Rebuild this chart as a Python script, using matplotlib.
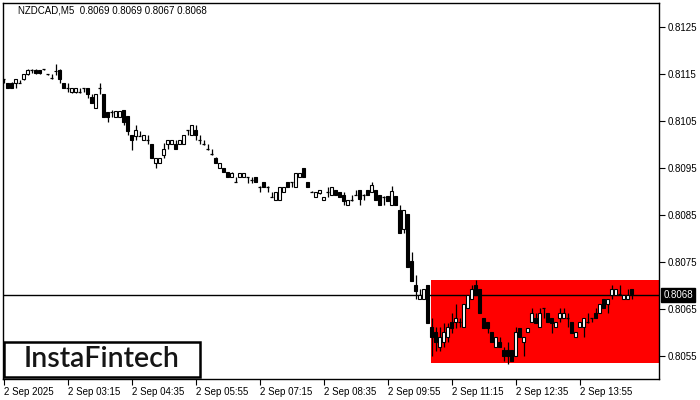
import matplotlib
matplotlib.use("Agg")
import matplotlib.pyplot as plt
from matplotlib.patches import Rectangle
from matplotlib.transforms import blended_transform_factory
import numpy as np

symbol_title = "NZDCAD,M5  0.8069 0.8069 0.8067 0.8068"

opens = [0.81139, 0.81131, 0.81132, 0.81131, 0.81132, 0.81139, 0.81150, 0.81160, 0.81160, 0.81159,
         0.81161, 0.81150, 0.81141, 0.81156, 0.81160, 0.81131, 0.81120, 0.81112, 0.81112, 0.81112,
         0.81120, 0.81120, 0.81101, 0.81079, 0.81120, 0.81109, 0.81070, 0.81070, 0.81060, 0.81060,
         0.81074, 0.81061, 0.81021, 0.81019, 0.81019, 0.81011, 0.81011, 0.81001, 0.80960, 0.80960,
         0.80978, 0.81001, 0.81001, 0.81001, 0.81001, 0.81001, 0.81031, 0.81021, 0.81031, 0.81011,
         0.81001, 0.80990, 0.80980, 0.80971, 0.80950, 0.80950, 0.80942, 0.80931, 0.80920, 0.80931,
         0.80931, 0.80931, 0.80925, 0.80931, 0.80911, 0.80920, 0.80911, 0.80889, 0.80882, 0.80882,
         0.80900, 0.80920, 0.80920, 0.80911, 0.80931, 0.80950, 0.80920, 0.80900, 0.80889, 0.80897,
         0.80882, 0.80900, 0.80893, 0.80904, 0.80900, 0.80893, 0.80872, 0.80882, 0.80893, 0.80904,
         0.80893, 0.80904, 0.80900, 0.80904, 0.80893, 0.80889, 0.80891, 0.80872, 0.80891, 0.80861,
         0.80820, 0.80852, 0.80752, 0.80701, 0.80671, 0.80671, 0.80701, 0.80612, 0.80602, 0.80570,
         0.80580, 0.80591, 0.80622, 0.80622, 0.80622, 0.80611, 0.80652, 0.80671, 0.80701, 0.80692,
         0.80630, 0.80622, 0.80601, 0.80570, 0.80580, 0.80563, 0.80563, 0.80563, 0.80551, 0.80610,
         0.80580, 0.80601, 0.80622, 0.80630, 0.80611, 0.80652, 0.80641, 0.80630, 0.80611, 0.80630,
         0.80630, 0.80630, 0.80622, 0.80591, 0.80611, 0.80611, 0.80622, 0.80630, 0.80641, 0.80641,
         0.80671, 0.80661, 0.80681, 0.80681, 0.80682, 0.80671, 0.80671, 0.80692]

highs = [0.81140, 0.81132, 0.81134, 0.81140, 0.81138, 0.81151, 0.81161, 0.81161, 0.81161, 0.81160,
         0.81162, 0.81151, 0.81150, 0.81172, 0.81161, 0.81131, 0.81131, 0.81121, 0.81121, 0.81120,
         0.81121, 0.81120, 0.81109, 0.81109, 0.81131, 0.81109, 0.81070, 0.81074, 0.81071, 0.81071,
         0.81074, 0.81061, 0.81021, 0.81042, 0.81030, 0.81021, 0.81021, 0.81001, 0.80971, 0.80971,
         0.81003, 0.81011, 0.81011, 0.81011, 0.81011, 0.81021, 0.81032, 0.81042, 0.81042, 0.81021,
         0.81011, 0.81001, 0.80990, 0.80973, 0.80960, 0.80950, 0.80942, 0.80941, 0.80931, 0.80940,
         0.80940, 0.80932, 0.80931, 0.80931, 0.80912, 0.80920, 0.80912, 0.80900, 0.80900, 0.80911,
         0.80911, 0.80920, 0.80921, 0.80940, 0.80940, 0.80950, 0.80920, 0.80901, 0.80900, 0.80904,
         0.80889, 0.80911, 0.80911, 0.80904, 0.80900, 0.80900, 0.80882, 0.80893, 0.80904, 0.80904,
         0.80894, 0.80904, 0.80920, 0.80904, 0.80893, 0.80890, 0.80891, 0.80912, 0.80891, 0.80872,
         0.80861, 0.80852, 0.80772, 0.80723, 0.80692, 0.80692, 0.80701, 0.80630, 0.80612, 0.80612,
         0.80620, 0.80621, 0.80641, 0.80661, 0.80630, 0.80661, 0.80681, 0.80701, 0.80712, 0.80692,
         0.80630, 0.80622, 0.80601, 0.80591, 0.80591, 0.80570, 0.80580, 0.80563, 0.80612, 0.80610,
         0.80591, 0.80610, 0.80652, 0.80641, 0.80652, 0.80653, 0.80641, 0.80630, 0.80622, 0.80652,
         0.80652, 0.80641, 0.80622, 0.80601, 0.80622, 0.80630, 0.80641, 0.80631, 0.80652, 0.80661,
         0.80671, 0.80671, 0.80701, 0.80692, 0.80701, 0.80681, 0.80692, 0.80693]

lows = [0.81131, 0.81120, 0.81120, 0.81120, 0.81131, 0.81138, 0.81149, 0.81152, 0.81151, 0.81151,
        0.81160, 0.81149, 0.81140, 0.81148, 0.81131, 0.81120, 0.81112, 0.81111, 0.81111, 0.81111,
        0.81112, 0.81100, 0.81088, 0.81079, 0.81109, 0.81060, 0.81049, 0.81060, 0.81060, 0.81060,
        0.81041, 0.81021, 0.80989, 0.81011, 0.81018, 0.81011, 0.81001, 0.80971, 0.80950, 0.80960,
        0.80972, 0.80990, 0.81001, 0.80990, 0.81001, 0.81001, 0.81021, 0.81021, 0.81011, 0.81001,
        0.81000, 0.80989, 0.80979, 0.80960, 0.80950, 0.80941, 0.80931, 0.80931, 0.80920, 0.80931,
        0.80931, 0.80918, 0.80918, 0.80920, 0.80900, 0.80911, 0.80900, 0.80889, 0.80882, 0.80882,
        0.80900, 0.80911, 0.80911, 0.80911, 0.80931, 0.80931, 0.80911, 0.80899, 0.80889, 0.80896,
        0.80882, 0.80889, 0.80893, 0.80893, 0.80889, 0.80872, 0.80872, 0.80881, 0.80892, 0.80872,
        0.80882, 0.80893, 0.80900, 0.80882, 0.80872, 0.80872, 0.80881, 0.80872, 0.80872, 0.80811,
        0.80811, 0.80740, 0.80710, 0.80671, 0.80671, 0.80671, 0.80621, 0.80550, 0.80560, 0.80560,
        0.80570, 0.80580, 0.80600, 0.80610, 0.80611, 0.80611, 0.80652, 0.80671, 0.80681, 0.80641,
        0.80610, 0.80600, 0.80580, 0.80570, 0.80570, 0.80540, 0.80532, 0.80540, 0.80551, 0.80591,
        0.80550, 0.80601, 0.80622, 0.80620, 0.80611, 0.80630, 0.80622, 0.80600, 0.80611, 0.80622,
        0.80630, 0.80611, 0.80600, 0.80591, 0.80611, 0.80591, 0.80621, 0.80622, 0.80630, 0.80641,
        0.80652, 0.80641, 0.80671, 0.80681, 0.80681, 0.80671, 0.80671, 0.80672]

closes = [0.81139, 0.81120, 0.81121, 0.81139, 0.81132, 0.81150, 0.81160, 0.81159, 0.81152, 0.81152,
          0.81161, 0.81150, 0.81141, 0.81158, 0.81140, 0.81120, 0.81121, 0.81120, 0.81120, 0.81112,
          0.81120, 0.81109, 0.81088, 0.81109, 0.81120, 0.81060, 0.81060, 0.81070, 0.81071, 0.81071,
          0.81049, 0.81030, 0.81011, 0.81031, 0.81019, 0.81021, 0.81011, 0.80971, 0.80971, 0.80971,
          0.80990, 0.81011, 0.81011, 0.80990, 0.81011, 0.81021, 0.81031, 0.81042, 0.81021, 0.81011,
          0.81001, 0.80990, 0.80980, 0.80960, 0.80960, 0.80941, 0.80931, 0.80940, 0.80920, 0.80940,
          0.80940, 0.80931, 0.80925, 0.80920, 0.80911, 0.80911, 0.80911, 0.80889, 0.80900, 0.80911,
          0.80911, 0.80911, 0.80920, 0.80940, 0.80940, 0.80931, 0.80911, 0.80900, 0.80900, 0.80904,
          0.80889, 0.80900, 0.80911, 0.80893, 0.80889, 0.80880, 0.80882, 0.80882, 0.80893, 0.80885,
          0.80893, 0.80893, 0.80914, 0.80882, 0.80872, 0.80889, 0.80881, 0.80902, 0.80872, 0.80811,
          0.80861, 0.80740, 0.80710, 0.80688, 0.80681, 0.80692, 0.80621, 0.80591, 0.80580, 0.80591,
          0.80602, 0.80612, 0.80610, 0.80630, 0.80622, 0.80661, 0.80681, 0.80692, 0.80681, 0.80641,
          0.80610, 0.80610, 0.80580, 0.80591, 0.80570, 0.80551, 0.80551, 0.80540, 0.80601, 0.80591,
          0.80591, 0.80610, 0.80641, 0.80620, 0.80641, 0.80652, 0.80622, 0.80620, 0.80622, 0.80641,
          0.80641, 0.80630, 0.80600, 0.80601, 0.80622, 0.80630, 0.80622, 0.80630, 0.80630, 0.80661,
          0.80652, 0.80671, 0.80692, 0.80692, 0.80682, 0.80681, 0.80681, 0.80682]

time_tick_bars = [0, 16, 32, 48, 64, 80, 96, 112, 128, 144]
time_tick_labels = ["2 Sep 2025", "2 Sep 03:15", "2 Sep 04:35", "2 Sep 05:55", "2 Sep 07:15",
                    "2 Sep 08:35", "2 Sep 09:55", "2 Sep 11:15", "2 Sep 12:35", "2 Sep 13:55"]
price_ticks = [0.8055, 0.8065, 0.8075, 0.8085, 0.8095, 0.8105, 0.8115, 0.8125]
price_tick_labels = ["0.8055", "0.8065", "0.8075", "0.8085", "0.8095", "0.8105", "0.8115", "0.8125"]
current_price = 0.8068
current_label = "0.8068"
pattern_start_bar = 106.9
pattern_top = 0.80712
pattern_bottom = 0.80535
logo_text = "InstaFintech"

plt.rcParams['font.family'] = ['Liberation Sans', 'DejaVu Sans']

fig = plt.figure(figsize=(7, 4), dpi=100)
fig.patch.set_facecolor('white')
ax = fig.add_axes([2.7 / 700, 21 / 400, 656.6 / 700, 376.3 / 400])
ax.set_facecolor('white')

o = np.array(opens); h = np.array(highs); l = np.array(lows); c = np.array(closes)
x = np.arange(len(o))
xmax = 163.95
ax.set_xlim(-0.2, xmax)
ax.set_ylim(0.805011, 0.813024)

ax.add_patch(Rectangle((pattern_start_bar, pattern_bottom), xmax - pattern_start_bar + 1,
                       pattern_top - pattern_bottom, facecolor='#ff0000', edgecolor='none', zorder=1))
ax.axhline(current_price, color='black', lw=1.0, zorder=2)

up = (c - o) > 0.000012
dn = (o - c) > 0.000012
dj = ~(up | dn)
ax.vlines(x, l, h, color='black', lw=0.9, zorder=3)
bw = 0.62
ax.bar(x[up], (c - o)[up], bottom=o[up], width=bw, facecolor='white', edgecolor='black',
       linewidth=0.8, zorder=4)
ax.bar(x[dn], (o - c)[dn], bottom=c[dn], width=bw, facecolor='black', edgecolor='black',
       linewidth=0.8, zorder=4)
ax.hlines(o[dj], x[dj] - 0.4, x[dj] + 0.4, color='black', lw=0.9, zorder=4)

for s in ax.spines.values():
    s.set_color('black')
    s.set_linewidth(1.0)

ax.set_xticks(time_tick_bars)
ax.set_xticklabels(time_tick_labels, ha='left')
ax.tick_params(axis='x', direction='out', length=4, width=0.8, pad=1.5, labelsize=7, colors='black')
ax.yaxis.tick_right()
ax.set_yticks(price_ticks)
ax.set_yticklabels(price_tick_labels)
ax.tick_params(axis='y', direction='out', length=4, width=0.8, pad=2, labelsize=7, colors='black')

ax.text(0.0238, 0.9787, symbol_title, transform=ax.transAxes, fontsize=7, va='center',
        ha='left', color='black')

tr = blended_transform_factory(ax.transAxes, ax.transData)
ax.text(1.006, current_price, current_label, transform=tr, color='white', fontsize=7,
        va='center', ha='left', zorder=10, clip_on=False,
        bbox=dict(boxstyle='square,pad=0.2', facecolor='black', edgecolor='black'))

fig.patches.append(Rectangle((3.7 / 700, (400 - 377.3) / 400), 196.6 / 700, 35.6 / 400,
                             transform=fig.transFigure, facecolor='white', edgecolor='black',
                             linewidth=1.8, zorder=20))
fig.text(101.5 / 700, (400 - 359.3) / 400, logo_text, fontsize=20.5, family=['Lato', 'DejaVu Sans'],
         weight='semibold', color='#151515', ha='center', va='center', zorder=21)

fig.savefig('out.png', dpi=100)
